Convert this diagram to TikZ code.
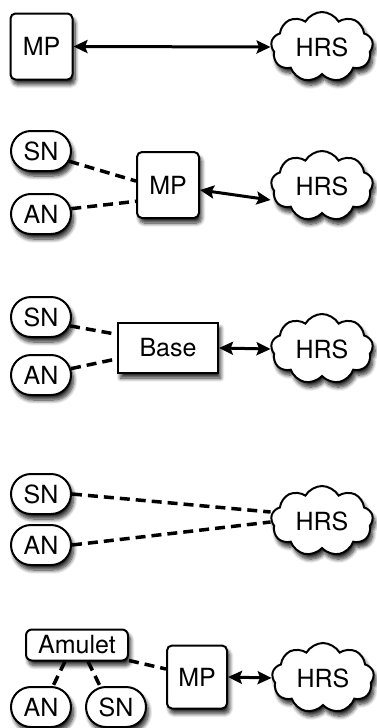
\documentclass[tikz,border=0pt]{standalone}
\usepackage{fontspec}
\setmainfont{TeX Gyre Heros}
\usetikzlibrary{shapes.symbols,shapes.misc,arrows.meta,shadows.blur}
\tikzset{
    shade/.style={blur shadow={shadow xshift=2.5pt,shadow yshift=-5pt,shadow blur steps=8,shadow blur radius=4pt,shadow opacity=85}},
    mpbox/.style={draw,line width=2pt,fill=white,rounded corners=5pt,minimum width=62pt,minimum height=66pt,inner sep=1pt,shade},
    basebox/.style={draw,line width=2pt,fill=white,minimum width=100pt,minimum height=50pt,inner sep=1pt,shade},
    pill/.style={draw,line width=2pt,fill=white,rounded rectangle,minimum width=62pt,minimum height=40pt,inner sep=1pt,shade},
    amuletbox/.style={draw,line width=2pt,fill=white,rounded corners=6pt,minimum width=102pt,minimum height=31pt,inner sep=1pt,shade},
    hrs/.style={draw,line width=2pt,fill=white,cloud,cloud puffs=9,cloud puff arc=120,aspect=1.45,minimum width=102pt,minimum height=70pt,inner sep=0pt,shade},
    link/.style={line width=3pt,{Stealth[length=14pt,width=13pt,inset=2.5pt]}-{Stealth[length=14pt,width=13pt,inset=2.5pt]}},
    wire/.style={line width=3.5pt,dash pattern=on 10pt off 6pt}
}
\begin{document}
\begin{tikzpicture}[x=1pt,y=-1pt,font=\fontsize{25}{29}\selectfont]
    \useasboundingbox (0,0) rectangle (376,728);

    % direct
    \node[mpbox] (mp1) at (41.5,46.5) {MP};
    \node[hrs] (hrs1) at (322,47) {HRS};
    \draw[link] (mp1.east) -- (hrs1.west);

    % sensors through MP
    \node[pill] (sn2) at (41,151) {SN};
    \node[pill] (an2) at (41,214) {AN};
    \node[mpbox] (mp2) at (168,185) {MP};
    \node[hrs] (hrs2) at (322,186) {HRS};
    \draw[wire] (sn2.-20) -- (mp2.173);
    \draw[wire] (an2.10) -- (mp2.207);
    \draw[link] ([yshift=-5pt]mp2.east) -- ([yshift=-14pt]hrs2.west);

    % base station
    \node[pill] (sn3) at (41,317) {SN};
    \node[pill] (an3) at (41,375) {AN};
    \node[basebox] (base) at (168,348) {Base};
    \node[hrs] (hrs3) at (322,349) {HRS};
    \draw[wire] (sn3.-17) -- (base.165);
    \draw[wire] (an3.12) -- (base.192);
    \draw[link] (base.east) -- (hrs3.west);

    % straight to HRS
    \node[pill] (sn4) at (41,494) {SN};
    \node[pill] (an4) at (41,545) {AN};
    \node[hrs] (hrs4) at (322,521) {HRS};
    \draw[wire] (sn4.east) -- ([yshift=9pt]hrs4.west);
    \draw[wire] (an4.east) -- ([yshift=-1pt]hrs4.west);

    % amulet
    \node[amuletbox] (amulet) at (77,645) {Amulet};
    \node[pill] (an5) at (41,707) {AN};
    \node[pill] (sn5) at (116,707) {SN};
    \node[mpbox,minimum width=60pt,minimum height=63pt] (mp5) at (197,677) {MP};
    \node[hrs] (hrs5) at (323,678) {HRS};
    \draw[wire] ([yshift=1pt]amulet.south east) -- ([yshift=8pt]mp5.west);
    \draw[wire] ([xshift=-12pt]amulet.south) -- ([xshift=12pt]an5.north);
    \draw[wire] ([xshift=11pt]amulet.south) -- ([xshift=-16pt]sn5.north);
    \draw[link] (mp5.east) -- (hrs5.west);
\end{tikzpicture}
\end{document}
